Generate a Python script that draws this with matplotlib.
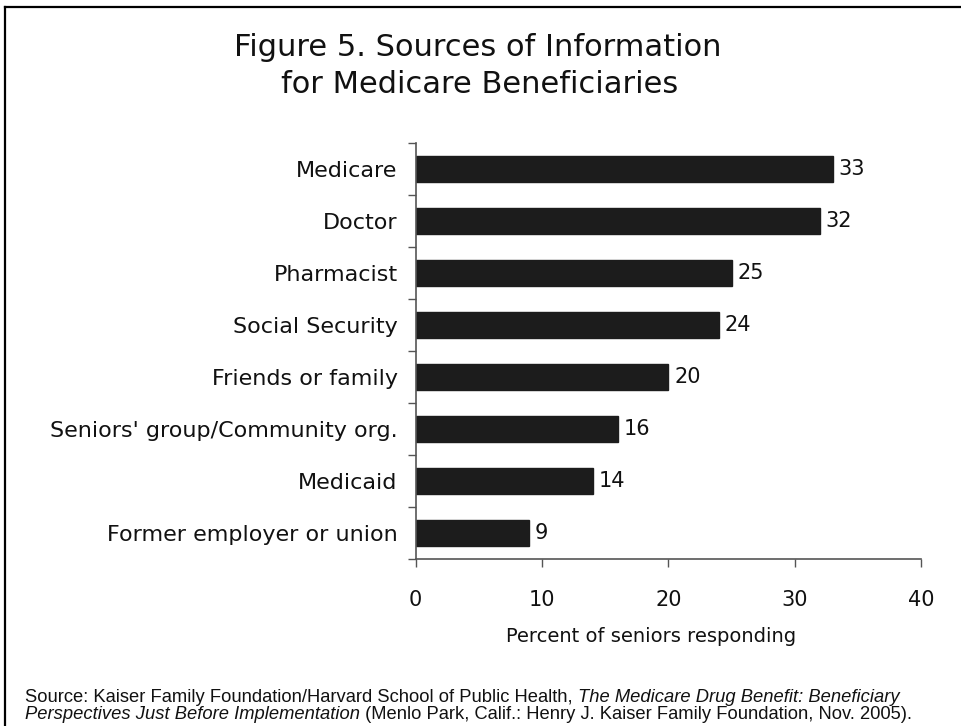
import matplotlib
matplotlib.use("Agg")
import matplotlib.pyplot as plt
from matplotlib.lines import Line2D
import numpy as np

categories = ["Medicare", "Doctor", "Pharmacist", "Social Security", "Friends or family",
              "Seniors' group/Community org.", "Medicaid", "Former employer or union"]
values = [33, 32, 25, 24, 20, 16, 14, 9]
xticks = [0, 10, 20, 30, 40]

W, H = 961, 726
fig = plt.figure(figsize=(W / 100, H / 100), dpi=100)
fig.patch.set_facecolor("white")

TXT = "#111111"
AX = "#555555"

# frame lines (left and top)
fig.add_artist(Line2D([5 / W, 5 / W], [0, 1 - 7 / H], transform=fig.transFigure, color="black", lw=1.6))
fig.add_artist(Line2D([5 / W, 1], [1 - 7 / H, 1 - 7 / H], transform=fig.transFigure, color="black", lw=1.6))

ax_l, ax_r = 415.7 / W, 921 / W
ax_t, ax_b = 1 - 143 / H, 1 - 559 / H
ax = fig.add_axes([ax_l, ax_b, ax_r - ax_l, ax_t - ax_b])

n = len(categories)
y = np.arange(n)
ax.barh(y, values, height=0.5, color="#1c1c1c", edgecolor="#1c1c1c")
ax.set_xlim(0, 40)
ax.set_ylim(n - 0.5, -0.5)

for yi, v in zip(y, values):
    ax.text(v + 0.45, yi, str(v), va="center", ha="left", fontsize=15, color=TXT,
            family="DejaVu Sans")

ax.set_xticks(xticks)
ax.set_xticklabels([str(t) for t in xticks], fontsize=15, color=TXT)
ax.tick_params(axis="x", length=6, width=1, color=AX, pad=16)

ax.set_yticks(np.arange(n + 1) - 0.5)
ax.set_yticklabels([])
ax.set_yticks(y, minor=True)
ax.set_yticklabels(categories, minor=True, fontsize=16, color=TXT)
ax.tick_params(axis="y", which="major", length=6, width=1, color=AX)
ax.tick_params(axis="y", which="minor", length=0, pad=13)

for s in ["top", "right"]:
    ax.spines[s].set_visible(False)
for s in ["left", "bottom"]:
    ax.spines[s].set_color(AX)
    ax.spines[s].set_linewidth(1.2)

ax.set_xlabel("Percent of seniors responding", fontsize=14, color=TXT)
ax.xaxis.set_label_coords((651 / W - ax_l) / (ax_r - ax_l), -(627 - 559) / (559 - 143))

fig.text(478 / W, 1 - 56 / H, "Figure 5. Sources of Information",
         ha="center", va="baseline", fontsize=22, color=TXT, family="DejaVu Sans")
fig.text(480 / W, 1 - 93 / H, "for Medicare Beneficiaries",
         ha="center", va="baseline", fontsize=22, color=TXT, family="DejaVu Sans")

# source note with mixed italic
renderer = fig.canvas.get_renderer()
def line(x0, yy, parts):
    x = x0
    for txt, style in parts:
        t = fig.text(x / W, 1 - yy / H, txt, ha="left", va="baseline", fontsize=13.2,
                     family="Liberation Sans", style=style, color=TXT)
        bb = t.get_window_extent(renderer)
        x = bb.x1
line(25, 702, [("Source: Kaiser Family Foundation/Harvard School of Public Health, ", "normal"),
               ("The Medicare Drug Benefit: Beneficiary", "italic")])
line(25, 719, [("Perspectives Just Before Implementation", "italic"),
               (" (Menlo Park, Calif.: Henry J. Kaiser Family Foundation, Nov. 2005).", "normal")])

fig.savefig("out.png", dpi=100, facecolor="white")
